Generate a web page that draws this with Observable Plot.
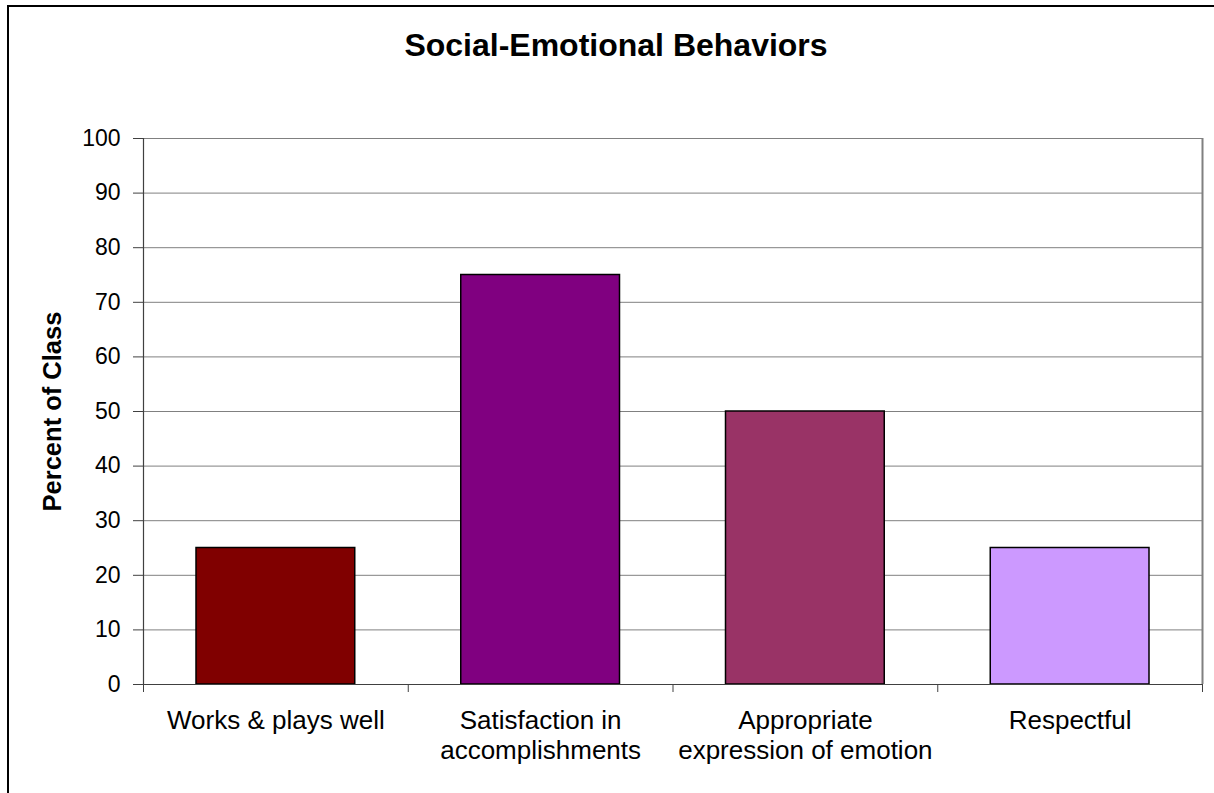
<!DOCTYPE html>
<html>
<head>
<meta charset="utf-8">
<script src="https://cdn.jsdelivr.net/npm/d3@7"></script>
<script src="https://cdn.jsdelivr.net/npm/@observablehq/plot@0.6"></script>
<style>
  html, body { margin: 0; padding: 0; background: #fff; overflow: hidden; }
  #wrap { position: relative; width: 1214px; height: 793px; overflow: hidden; }
  #border { position: absolute; left: 7px; top: 5px; width: 1300px; height: 900px; border: 2px solid #000; box-sizing: border-box; pointer-events: none; }
  #chart { position: absolute; left: 0; top: 0; }
</style>
</head>
<body>
<div id="wrap"><div id="chart"></div><div id="border"></div></div>
<script>
const title = "Social-Emotional Behaviors";
const yLabel = "Percent of Class";
const categories = ["Works & plays well", "Satisfaction in\naccomplishments", "Appropriate\nexpression of emotion", "Respectful"];
const values = [25, 75, 50, 25];
const colors = ["#800000", "#800080", "#993366", "#CC99FF"];
const yTicks = [0, 10, 20, 30, 40, 50, 60, 70, 80, 90, 100];
const xBoundaries = [0, 1, 2, 3, 4];

const data = categories.map((c, i) => ({ cat: c, i, value: values[i], color: colors[i] }));

const font = "Arial, 'Liberation Sans', sans-serif";

const chart = Plot.plot({
  width: 1214,
  height: 793,
  marginLeft: 143,
  marginRight: 12,
  marginTop: 138,
  marginBottom: 109,
  style: { fontFamily: font, background: "#fff", color: "#000" },
  x: { type: "linear", domain: [0, 4], axis: null },
  y: { domain: [0, 100], axis: null },
  marks: [
    Plot.gridY(yTicks, { stroke: "#808080", strokeOpacity: 1, strokeWidth: 1 }),
    Plot.ruleX([4], { stroke: "#808080", strokeWidth: 2 }),
    Plot.rectY(data, {
      x1: d => d.i, x2: d => d.i + 1, y1: 0, y2: "value",
      insetLeft: 53, insetRight: 53,
      fill: "color", stroke: "#000", strokeWidth: 1.5
    }),
    Plot.axisY({
      ticks: yTicks, tickSize: 10, tickPadding: 13, fontSize: 23,
      stroke: "#404040", label: null, fill: "#000"
    }),
    Plot.axisX({
      ticks: xBoundaries, tickSize: 8, tickFormat: () => "",
      stroke: "#404040", label: null
    }),
    Plot.ruleX([0], { stroke: "#404040", strokeWidth: 1.2 }),
    Plot.ruleY([0], { stroke: "#404040", strokeWidth: 1.2 }),
    Plot.text(data, {
      x: d => d.i + 0.5, y: 0, text: "cat",
      lineAnchor: "top", dy: 23, fontSize: 26, lineHeight: 1.15, fill: "#000"
    }),
    Plot.text([title], {
      frameAnchor: "top", text: d => d, dx: -57, dy: -93,
      lineAnchor: "middle", textAnchor: "middle", fontSize: 32, fontWeight: "bold", fill: "#000"
    }),
    Plot.text([yLabel], {
      frameAnchor: "left", text: d => d, dx: -91, rotate: -90,
      lineAnchor: "middle", textAnchor: "middle", fontSize: 25.5, fontWeight: "bold", fill: "#000"
    })
  ]
});
document.getElementById("chart").appendChild(chart);
</script>
</body>
</html>
